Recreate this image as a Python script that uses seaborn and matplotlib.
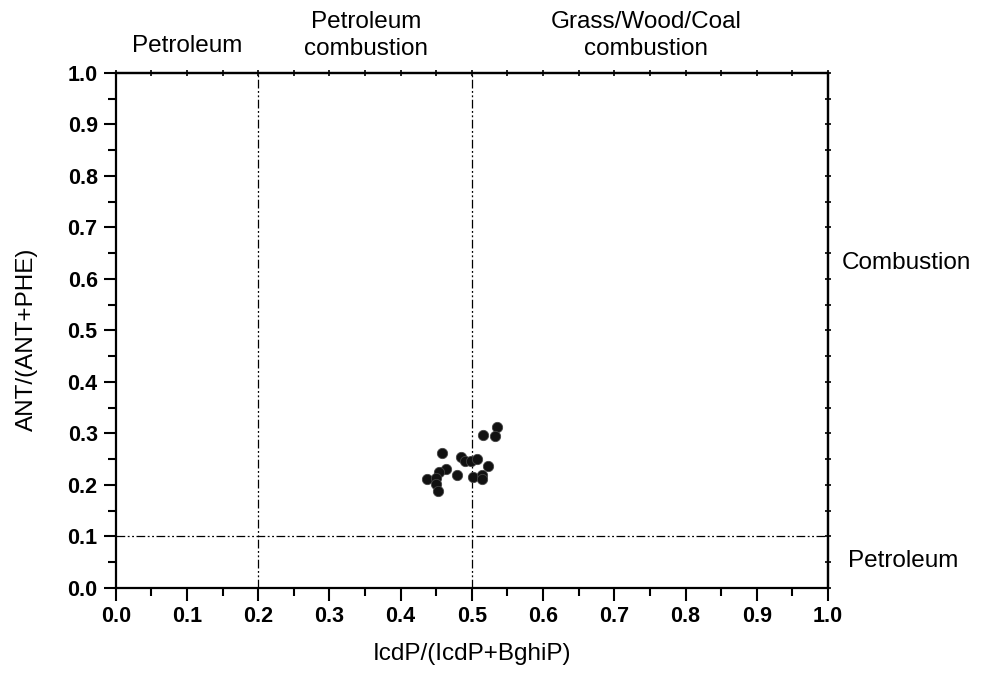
import numpy as np
import pandas as pd
import seaborn as sns
import matplotlib.pyplot as plt

# ratios
icdp_ratio = [0.535, 0.515, 0.532, 0.458, 0.485, 0.491, 0.499, 0.507, 0.522, 0.464,
              0.454, 0.479, 0.501, 0.514, 0.514, 0.437, 0.449, 0.449, 0.453]
ant_ratio = [0.312, 0.297, 0.295, 0.263, 0.254, 0.247, 0.247, 0.251, 0.237, 0.231,
             0.226, 0.220, 0.216, 0.220, 0.211, 0.212, 0.213, 0.202, 0.189]

x_cuts = [0.2, 0.5]
y_cuts = [0.1]
top_labels = ["Petroleum", "Petroleum\ncombustion", "Grass/Wood/Coal\ncombustion"]
top_label_x = [0.101, 0.3515, 0.745]
right_labels = ["Combustion", "Petroleum"]
right_label_y = [0.631, 0.052]

df = pd.DataFrame({"IcdP": icdp_ratio, "ANT": ant_ratio})

sns.set_style("ticks")
plt.rcParams['font.family'] = ['Liberation Sans', 'DejaVu Sans']
plt.rcParams.update({"text.color": "black", "axes.labelcolor": "black",
                     "xtick.color": "black", "ytick.color": "black",
                     "axes.edgecolor": "black"})

fig = plt.figure(figsize=(9.83, 6.75), dpi=100)
ax = fig.add_axes([0.1177, 0.1289, 0.7246, 0.763])

sns.scatterplot(data=df, x="IcdP", y="ANT", ax=ax, color="#111111", edgecolor="#444444",
                linewidth=0.6, s=55, zorder=3)

dash = (0, (7, 2, 1.5, 2, 1.5, 2))
for xc in x_cuts:
    ax.axvline(xc, color="black", linewidth=0.9, linestyle=dash, zorder=1)
for yc in y_cuts:
    ax.axhline(yc, color="black", linewidth=0.9, linestyle=dash, zorder=1)

ax.set_xlim(0, 1)
ax.set_ylim(0, 1)
ticks = np.round(np.arange(0, 1.01, 0.1), 1)
ax.set_xticks(ticks)
ax.set_yticks(ticks)
ax.set_xticklabels([f"{t:.1f}" for t in ticks], fontweight="bold", fontsize=15.5)
ax.set_yticklabels([f"{t:.1f}" for t in ticks], fontweight="bold", fontsize=15.5)
ax.set_xticks(np.arange(0.05, 1, 0.1), minor=True)
ax.set_yticks(np.arange(0.05, 1, 0.1), minor=True)
ax.tick_params(which="major", direction="out", length=9, width=1.5, pad=4)
ax.tick_params(which="minor", direction="out", length=6, width=1.5)

for sp in ax.spines.values():
    sp.set_linewidth(1.6)
    sp.set_visible(True)

# small ticks on top / right spines
sec_top = ax.secondary_xaxis("top")
sec_top.set_xticks(np.arange(0, 1.01, 0.05))
sec_top.tick_params(direction="inout", length=4, width=1.2, labeltop=False)
sec_right = ax.secondary_yaxis("right")
sec_right.set_yticks(np.arange(0, 1.01, 0.05))
sec_right.tick_params(direction="inout", length=4, width=1.2, labelright=False)
for s in (sec_top, sec_right):
    for sp in s.spines.values():
        sp.set_linewidth(1.6)

ax.set_xlabel("IcdP/(IcdP+BghiP)", fontsize=17.5)
ax.set_ylabel("ANT/(ANT+PHE)", fontsize=17.5)
ax.xaxis.set_label_coords(0.5, -0.128)
ax.yaxis.set_label_coords(-0.125, 0.482)
ax.xaxis.label.set_va("center")
ax.yaxis.label.set_va("center")

for lab, xp in zip(top_labels, top_label_x):
    yp = 1.052 if "\n" not in lab else 1.072
    ax.text(xp, yp, lab, transform=ax.get_xaxis_transform(), ha="center", va="center",
            fontsize=17.5, linespacing=1.3)
for lab, yp in zip(right_labels, right_label_y):
    ax.text(1.0195 if lab == "Combustion" else 1.0285, yp, lab, transform=ax.get_yaxis_transform(),
            ha="left", va="center", fontsize=17.5)

fig.savefig("out.png", dpi=100)
